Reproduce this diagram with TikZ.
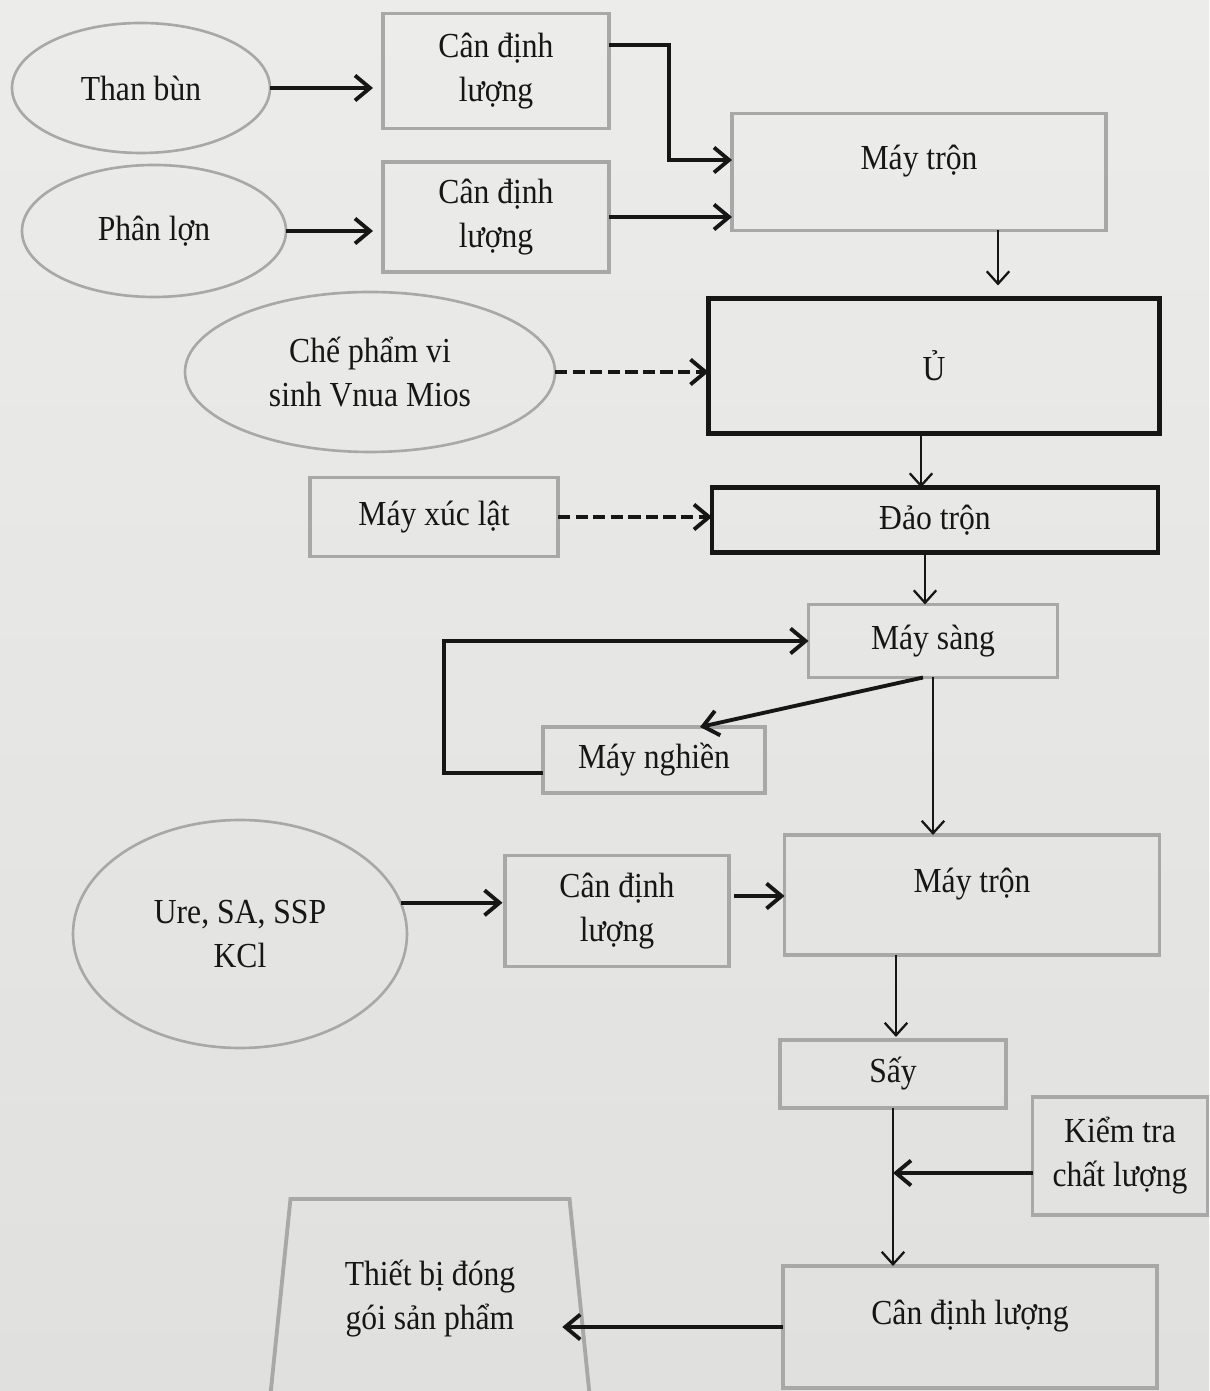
\documentclass[tikz,border=0pt]{standalone}
\usepackage{fontspec}
\setmainfont{Liberation Serif}[FakeStretch=0.9]
\usetikzlibrary{calc,positioning,shapes.geometric,arrows.meta}
\definecolor{paper}{RGB}{236,236,234}
\definecolor{paperdark}{RGB}{224,224,222}
\definecolor{boxgray}{RGB}{168,168,168}
\definecolor{ink}{RGB}{22,22,22}

\begin{document}
\begin{tikzpicture}

\tikzstyle{box}=[draw=boxgray,line width=2.2pt,outer sep=0pt,align=center,text=ink,font=\fontsize{20}{25}\selectfont]
\tikzstyle{heavybox}=[draw=ink,line width=2.8pt,outer sep=0pt,align=center,text=ink,font=\fontsize{20}{25}\selectfont]
\tikzstyle{blob}=[ellipse,draw=boxgray,line width=1.5pt,outer sep=0pt,align=center,text=ink,font=\fontsize{20}{25}\selectfont]
\tikzstyle{raised}=[text depth=0.58cm]
\tikzstyle{arr}=[ink,line width=2.2pt,-{Straight Barb[length=3mm,width=5mm]}]
\tikzstyle{arrthin}=[ink,line width=1.3pt,-{Straight Barb[length=2.5mm,width=4.5mm]}]
\tikzstyle{arrdash}=[arr,dash pattern=on 7pt off 3pt]

% Nền
\shade[top color=paper,bottom color=paperdark] (0,0) rectangle (24.18,27.82);
\useasboundingbox (0,0) rectangle (24.18,27.82);

% Nguyên liệu
\node (thanbun) [blob,minimum width=5.16cm,minimum height=2.6cm] at (2.82,26.06) {Than bùn};
\node (can1) [box,minimum width=4.52cm,minimum height=2.3cm] at (9.92,26.40) {Cân định\\lượng};

\node (phanlon) [blob,minimum width=5.28cm,minimum height=2.64cm] at (3.08,23.20) {Phân lợn};
\node (can2) [box,minimum width=4.52cm,minimum height=2.2cm] at (9.92,23.48) {Cân định\\lượng};

\node (tron1) [box,raised,minimum width=7.48cm,minimum height=2.34cm] at (18.38,24.38) {Máy trộn};

% Ủ
\node (u) [heavybox,minimum width=9.02cm,minimum height=2.7cm] at (18.68,20.50) {Ủ};
\node (chepham) [blob,minimum width=7.4cm,minimum height=3.2cm] at (7.40,20.38) {Chế phẩm vi\\sinh Vnua Mios};

% Đảo trộn
\node (mayxuc) [box,minimum width=4.96cm,minimum height=1.58cm] at (8.68,17.48) {Máy xúc lật};
\node (daotron) [heavybox,minimum width=8.92cm,minimum height=1.3cm] at (18.70,17.42) {Đảo trộn};

% Sàng, nghiền
\node (maysang) [box,minimum width=4.98cm,minimum height=1.46cm] at (18.66,15.00) {Máy sàng};
\node (maynghien) [box,minimum width=4.44cm,minimum height=1.32cm] at (13.08,12.62) {Máy nghiền};

% Phối trộn NPK
\node (ure) [blob,minimum width=6.68cm,minimum height=4.56cm] at (4.80,9.14) {Ure, SA, SSP\\KCl};
\node (can3) [box,minimum width=4.48cm,minimum height=2.22cm] at (12.34,9.60) {Cân định\\lượng};
\node (tron2) [box,raised,minimum width=7.5cm,minimum height=2.4cm] at (19.44,9.92) {Máy trộn};

% Sấy, đóng gói
\node (say) [box,minimum width=4.52cm,minimum height=1.36cm] at (17.86,6.34) {Sấy};
\node (kiemtra) [box,minimum width=3.5cm,minimum height=2.36cm] at (22.40,4.70) {Kiểm tra\\chất lượng};
\node (can4) [box,raised,minimum width=7.48cm,minimum height=2.44cm] at (19.40,1.28) {Cân định lượng};
\node (thietbi) [box,trapezium,trapezium left angle=77,trapezium right angle=77,trapezium stretches body,minimum width=6.4cm,minimum height=4cm] at (8.60,1.84) {Thiết bị đóng\\gói sản phẩm};

% Mũi tên
\draw [arr,shorten >=0.2cm] (thanbun.east) -- (thanbun.east -| can1.west);
\draw [arr,shorten >=0.2cm] (phanlon.east) -- (phanlon.east -| can2.west);
\draw [arr] ([yshift=0.52cm]can1.east) -- ++(1.2,0) |- ([yshift=0.24cm]tron1.west);
\draw [arr] (can2.east) -- (can2.east -| tron1.west);
\draw [arrthin,shorten >=0.26cm] ([xshift=1.58cm]tron1.south) -- ([xshift=1.58cm]tron1.south |- u.north);

\draw [arrdash] (chepham.east) -- (chepham.east -| u.west);
\draw [arrthin] ([xshift=-0.26cm]u.south) -- ([xshift=-0.26cm]u.south |- daotron.north);

\draw [arrdash] (mayxuc.east) -- (mayxuc.east -| daotron.west);
\draw [arrthin] ([xshift=-0.2cm]daotron.south) -- ([xshift=-0.2cm]daotron.south |- maysang.north);

\draw [arr] ([xshift=-0.2cm]maysang.south) -- ([xshift=0.92cm]maynghien.north);
\draw [arr] ([yshift=-0.26cm]maynghien.west) -- ++(-1.98,0) |- (maysang.west);
\draw [arrthin] (maysang.south) -- (maysang.south |- tron2.north);

\draw [arr,shorten >=0.05cm] (ure.11) -- (ure.11 -| can3.west);
\draw [arr,shorten <=0.1cm] ([yshift=0.3cm]can3.east) -- ([yshift=0.3cm]can3.east -| tron2.west);
\draw [arrthin,shorten >=0.06cm] ([xshift=-1.52cm]tron2.south) -- ([xshift=-1.52cm]tron2.south |- say.north);

\draw [arrthin] (say.south) -- (say.south |- can4.north);
\draw [arr] ([yshift=-0.34cm]kiemtra.west) -- ([yshift=-0.34cm]kiemtra.west -| say.south);
\draw [arr,shorten >=-0.35cm] (can4.west) -- (can4.west -| thietbi.east);

\end{tikzpicture}
\end{document}
